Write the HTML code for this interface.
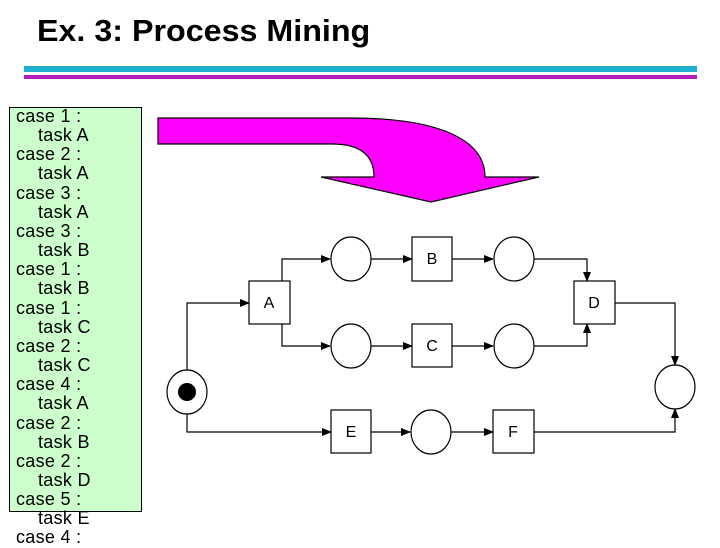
<!DOCTYPE html>
<html><head><meta charset="utf-8"><style>
body{margin:0;width:720px;height:540px;overflow:hidden;background:#fff;position:relative;font-family:"Liberation Sans",sans-serif}
.title{position:absolute;left:37px;top:13px;font-size:31px;font-weight:bold;white-space:nowrap;transform:scaleX(1.04);transform-origin:left}
.l1{position:absolute;left:24px;top:66px;width:673px;height:6px;background:#1fb0d0}
.l2{position:absolute;left:24px;top:75px;width:673px;height:4px;background:#b020b8}
.box{position:absolute;left:9px;top:107px;width:131px;height:403px;background:#ccffcc;border:1px solid #000}
.txt{position:absolute;left:16px;top:107px;font-size:18px;line-height:19.15px;white-space:pre;color:#000;letter-spacing:0.3px}
.txt span{padding-left:22px}
svg{position:absolute;left:0;top:0}
</style></head><body>
<div class="title">Ex. 3: Process Mining</div>
<div class="l1"></div><div class="l2"></div>
<div class="box"></div>
<div class="txt">case 1 :
<span>task A</span>
case 2 :
<span>task A</span>
case 3 :
<span>task A</span>
case 3 :
<span>task B</span>
case 1 :
<span>task B</span>
case 1 :
<span>task C</span>
case 2 :
<span>task C</span>
case 4 :
<span>task A</span>
case 2 :
<span>task B</span>
case 2 :
<span>task D</span>
case 5 :
<span>task E</span>
case 4 :</div>
<svg width="720" height="540" viewBox="0 0 720 540">
<defs><marker id="ar" markerWidth="10" markerHeight="8" refX="9" refY="4" orient="auto" markerUnits="userSpaceOnUse"><path d="M0,0 L10,4 L0,8 z" fill="#000"/></marker></defs>
<path d="M158,118 L350,118 C440,118 485,140 485,177 L539,177 L431,202 L321,177 L374,177 C374,155 360,144 332,144 L158,144 Z" fill="#ff00ff" stroke="#000" stroke-width="1.2"/>
<g fill="none" stroke="#000" stroke-width="1.2">
<path d="M187,370 L187,303 L249,303" marker-end="url(#ar)"/>
<path d="M282,281 L282,259 L330,259" marker-end="url(#ar)"/>
<path d="M282,324 L282,346 L330,346" marker-end="url(#ar)"/>
<path d="M371,259 L412,259" marker-end="url(#ar)"/>
<path d="M371,346 L412,346" marker-end="url(#ar)"/>
<path d="M452,259 L493,259" marker-end="url(#ar)"/>
<path d="M452,346 L493,346" marker-end="url(#ar)"/>
<path d="M534,259 L587,259 L587,281" marker-end="url(#ar)"/>
<path d="M534,346 L587,346 L587,324" marker-end="url(#ar)"/>
<path d="M615,303 L675,303 L675,365" marker-end="url(#ar)"/>
<path d="M187,414 L187,432 L331,432" marker-end="url(#ar)"/>
<path d="M371,432 L410,432" marker-end="url(#ar)"/>
<path d="M451,432 L493,432" marker-end="url(#ar)"/>
<path d="M534,432 L675,432 L675,409" marker-end="url(#ar)"/>
<ellipse cx="187" cy="392" rx="20" ry="22"/>
<ellipse cx="351" cy="259" rx="20" ry="22"/>
<ellipse cx="351" cy="346" rx="20" ry="22"/>
<ellipse cx="514" cy="259" rx="20" ry="22"/>
<ellipse cx="514" cy="346" rx="20" ry="22"/>
<ellipse cx="431" cy="432" rx="20" ry="22"/>
<ellipse cx="675" cy="387" rx="20" ry="22"/>
<rect x="249" y="281" width="41" height="43"/>
<rect x="412" y="237" width="40" height="44"/>
<rect x="412" y="324" width="40" height="43"/>
<rect x="574" y="281" width="41" height="43"/>
<rect x="331" y="410" width="40" height="43"/>
<rect x="493" y="410" width="41" height="43"/>
</g>
<circle cx="187" cy="392" r="9" fill="#000"/>
<g font-family="Liberation Sans,sans-serif" font-size="16" text-anchor="middle">
<text x="269" y="308">A</text><text x="432" y="264">B</text><text x="432" y="351">C</text>
<text x="594" y="308">D</text><text x="351" y="437">E</text><text x="513" y="437">F</text>
</g>
</svg>
</body></html>
